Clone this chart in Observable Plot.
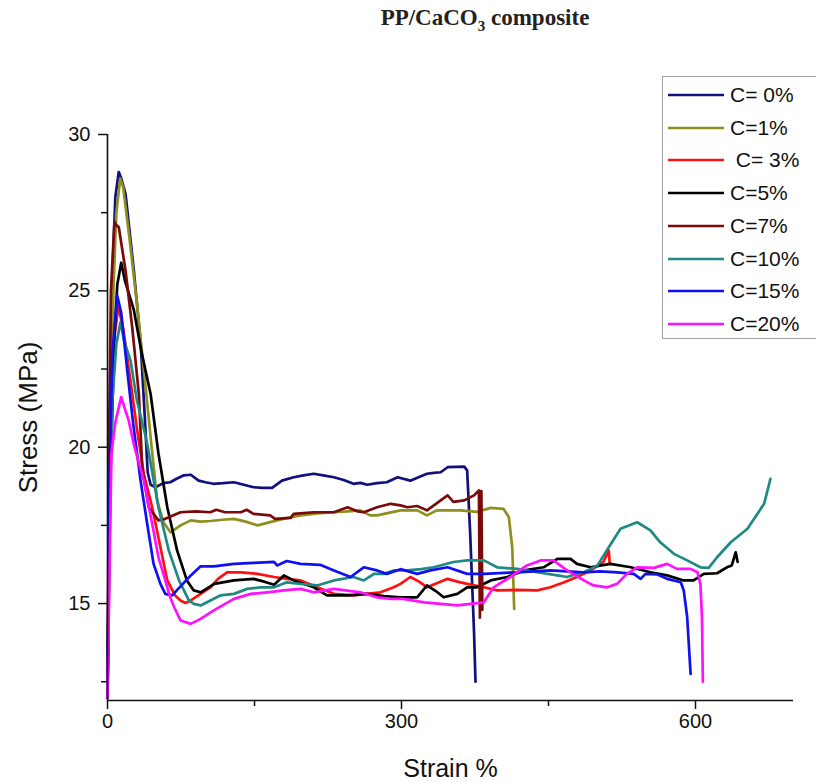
<!DOCTYPE html>
<html><head><meta charset="utf-8">
<script src="https://cdn.jsdelivr.net/npm/d3@7"></script>
<script src="https://cdn.jsdelivr.net/npm/@observablehq/plot@0.6"></script>
<style>
body{margin:0;background:#fff;}
#wrap{position:relative;width:816px;height:782px;overflow:hidden;font-family:"Liberation Sans",Arial,sans-serif;background:#fff;}
#title{position:relative;height:50px;}
#title span{position:absolute;left:485px;top:5px;transform:translateX(-50%);white-space:nowrap;font-family:"Liberation Serif","Times New Roman",serif;font-weight:bold;font-size:23px;color:#222;}
#title sub{font-size:15px;}
#legend{position:absolute;left:662px;top:76px;width:170px;height:261px;border:1px solid #a0a0a0;background:#fff;}
.row{position:absolute;left:0;height:24px;}
.row svg{position:absolute;left:4px;top:10px;}
.row span{position:absolute;left:67px;top:0;line-height:24px;font-size:21px;white-space:pre;color:#111;}
</style></head>
<body>
<div id="wrap">
  <div id="title"><span>PP/CaCO<sub>3</sub> composite</span></div>
  <div id="chart"></div>
  <div id="legend"></div>
</div>
<script>
const seriesNames = ["C= 0%", "C=1%", " C= 3%", "C=5%", "C=7%", "C=10%", "C=15%", "C=20%"];
const seriesColors = ["#10107e", "#8f8f1c", "#ff1010", "#000000", "#7a0a0a", "#1f8a82", "#1010f0", "#ff10ff"];

const xTicks = [0, 300, 600];
const xMinor = [150, 450];
const yTicks = [15, 20, 25, 30];
const yMinor = [12.5, 17.5, 22.5, 27.5];

// [strain %, stress MPa]
const c0 = [[0,12],[2,20],[5,25.5],[8,28],[11.5,28.8],[14,28.6],[18.4,28.1],[26.9,25.65],[33.7,23.4],[38,21],[41,19.2],[44,18.8],[49,18.72],[57,18.85],[64,18.88],[71,19.0],[78,19.1],[85,19.12],[93,18.93],[100,18.88],[108,18.83],[118,18.85],[129,18.88],[139,18.8],[149,18.72],[158,18.7],[168,18.7],[178,18.93],[190,19.04],[200,19.1],[210.5,19.15],[220,19.1],[231,19.04],[241,18.95],[251,18.83],[258,18.86],[265,18.8],[275,18.85],[285,18.88],[296,19.04],[309,18.93],[318,19.05],[326,19.15],[333,19.18],[340,19.2],[347,19.36],[355,19.37],[364,19.38],[367,19.26],[370,17.3],[374,14.1],[375.5,12.5]];
const c1 = [[0,12],[3,20],[6,25],[9,27.5],[13,28.6],[16,28.3],[22,26.8],[30,24.6],[38,22.2],[45,20.0],[50.7,18.3],[57,17.6],[64.3,17.28],[74.5,17.5],[85,17.66],[95,17.62],[105,17.64],[117,17.68],[129,17.71],[141,17.62],[153,17.5],[163,17.58],[173,17.66],[185,17.75],[197,17.82],[214,17.88],[231,17.92],[245,17.95],[258,17.98],[268,17.82],[275,17.82],[287,17.9],[299,17.98],[316,17.98],[326,17.82],[336,17.98],[348,17.98],[360,17.98],[377,17.93],[391,18.06],[404,18.03],[409.5,17.77],[413,16.8],[415,14.83]];
const c3 = [[0,12],[2,19],[5,23],[11,24.5],[16,23.8],[24,22],[30,20.6],[37,19.15],[45.6,18.08],[54,16.8],[61,15.74],[69,15.26],[74.5,15.1],[79.6,15.02],[85,15.1],[95,15.31],[105,15.52],[113,15.8],[122,16.0],[136,16.0],[153,15.95],[170,15.85],[183,15.79],[197,15.74],[214,15.52],[231,15.31],[251,15.26],[265,15.31],[278.6,15.36],[292,15.52],[299,15.63],[309,15.85],[318,15.7],[326,15.52],[336,15.65],[347,15.79],[357,15.7],[367,15.63],[384,15.52],[397.6,15.42],[418,15.44],[438.5,15.42],[452,15.52],[466,15.68],[479,15.85],[493,16.06],[506,16.33],[511.5,16.7],[512.5,16.27]];
const c5 = [[0,12],[3,19],[7,23.5],[10,25.2],[14,25.9],[18,25.3],[26.8,24.4],[35,23],[44,21.7],[52,19.8],[61,18.08],[71,16.7],[81,15.74],[88,15.42],[95,15.36],[109,15.63],[129,15.74],[149,15.79],[160,15.7],[170,15.6],[180,15.9],[190,15.74],[210.5,15.52],[224,15.26],[245,15.26],[265,15.31],[282,15.24],[299,15.2],[306,15.2],[316,15.2],[326,15.58],[335,15.4],[343,15.2],[357,15.31],[367,15.52],[377,15.52],[391,15.74],[408,15.85],[425,16.06],[445,16.16],[459,16.43],[472.5,16.43],[479,16.27],[493,16.16],[513,16.27],[534,16.16],[554,16.0],[571,15.9],[588,15.74],[598,15.74],[608.5,15.95],[622,15.97],[632,16.16],[637,16.22],[641,16.64],[643,16.33]];
const c7 = [[0,12],[1.5,20],[3.5,25],[7.1,27.2],[9,27.1],[11.5,27.04],[18.4,25.65],[25.2,23.84],[32,21.7],[35.4,19.36],[42,18.08],[52,17.66],[59,17.71],[74.5,17.92],[90,17.95],[105,17.92],[111,18.0],[120,17.92],[136,17.92],[142,18.0],[149,17.87],[166,17.82],[171,17.71],[187,17.74],[190,17.87],[210.5,17.92],[231,17.92],[245,18.08],[255,17.95],[261.5,17.92],[275,18.08],[289,18.19],[299,18.14],[306,18.08],[316,18.12],[326,17.98],[340,18.3],[347,18.46],[353,18.25],[364,18.3],[374,18.46],[379,18.62],[380,14.55],[381.5,18.6],[382.5,14.8]];
const c10 = [[0,12],[2,18],[5,21.5],[9,23.3],[13.3,24],[17,23.4],[23.5,22.77],[30,21.5],[40,20.2],[52,18.08],[62.5,16.7],[73,15.74],[83,15.1],[88,14.99],[95,14.94],[105,15.1],[115,15.26],[129,15.31],[142.5,15.47],[156,15.52],[170,15.52],[183,15.68],[197,15.63],[214,15.58],[231,15.74],[251,15.85],[261.5,15.74],[272,15.95],[282,15.95],[292,16.06],[306,16.06],[320,16.1],[333,16.16],[353,16.33],[367,16.38],[384,16.38],[397.6,16.16],[418,16.11],[438.5,16.0],[459,15.9],[469,15.85],[479,15.95],[486,16.0],[493,16.11],[500,16.22],[511.5,16.8],[523.5,17.39],[540.5,17.6],[554,17.34],[564,16.96],[578,16.59],[591.5,16.38],[605,16.16],[613.5,16.14],[622,16.48],[636,16.96],[653,17.39],[670,18.19],[676.5,18.99]];
const c15 = [[0,12],[2,19],[5,23],[9.9,24.85],[14,24.3],[20,22.5],[26,20.8],[33.7,18.94],[40.5,17.55],[47,16.27],[54,15.63],[59,15.31],[66,15.26],[74.5,15.55],[85,15.9],[95,16.19],[108.5,16.19],[129,16.27],[149,16.3],[170,16.33],[173,16.22],[183,16.36],[197,16.27],[217,16.24],[231,16.06],[248,15.85],[261.5,16.16],[275,16.06],[285,15.95],[299,16.1],[316,15.95],[329.6,16.06],[347,16.16],[367,15.95],[384,15.95],[418,16.0],[452,16.06],[486,16.0],[503,16.03],[520,16.0],[537,15.95],[544,15.79],[549,15.95],[561,15.93],[571,15.79],[585,15.68],[588,15.42],[591.5,14.57],[595,12.75]];
const c20 = [[0,12],[2,16],[4,19.8],[8,20.8],[14,21.6],[18,21.2],[21.7,20.85],[26.8,20.1],[32,19.5],[37,18.94],[45.6,17.55],[52,16.48],[59,15.74],[64,15.2],[68,14.89],[74.5,14.46],[85,14.35],[95,14.51],[108.5,14.78],[129,15.15],[146,15.31],[163,15.36],[180,15.42],[197,15.47],[210.5,15.36],[231,15.47],[258,15.36],[275,15.2],[290,15.15],[302,15.15],[323,15.04],[357,14.94],[384,15.04],[394,15.52],[411,15.85],[428,16.22],[442,16.38],[455,16.38],[469,16.06],[486,15.74],[496,15.58],[510,15.52],[520,15.63],[530,15.95],[540.5,16.16],[557.5,16.14],[571,16.27],[581,16.11],[595,16.11],[602,16.0],[605,15.63],[606.6,14.57],[607.5,12.5]];

const curves = [c0, c1, c3, c5, c7, c10, c15, c20];
const data = curves.flatMap((pts, i) => pts.map(([strain, stress]) => ({series: seriesNames[i], strain, stress})));

const yMin = 11.9, yMax = 30, xMax = 700;

const chart = Plot.plot({
  width: 816,
  height: 732,
  marginLeft: 107,
  marginRight: 23,
  marginTop: 84,
  marginBottom: 82,
  x: {domain: [0, xMax]},
  y: {domain: [yMin, yMax]},
  color: {domain: seriesNames, range: seriesColors},
  style: {fontFamily: "'Liberation Sans', Arial, sans-serif", fontSize: "20px", color: "#111", background: "#fff", overflow: "visible"},
  marks: [
    Plot.line(data, {x: "strain", y: "stress", z: "series", stroke: "series", strokeWidth: 2.7, strokeLinejoin: "round", strokeLinecap: "round"}),
    Plot.ruleX([0], {y1: yMin, y2: yMax, stroke: "#111", strokeWidth: 1.6}),
    Plot.ruleY([yMin], {x1: 0, x2: xMax, stroke: "#111", strokeWidth: 1.6}),
    Plot.axisX({ticks: xTicks, tickSize: 9, tickPadding: 4, strokeWidth: 1.5, fontSize: 20, tickFormat: d => String(d), label: null}),
    Plot.axisX({ticks: xMinor, tickSize: 6, strokeWidth: 1.5, tickFormat: () => "", label: null}),
    Plot.axisY({ticks: yTicks, tickSize: 9, tickPadding: 8, strokeWidth: 1.5, fontSize: 20, tickFormat: d => String(d), label: null}),
    Plot.axisY({ticks: yMinor, tickSize: 6, strokeWidth: 1.5, tickFormat: () => "", label: null}),
    Plot.text(["Stress (MPa)"], {frameAnchor: "left", dx: -79, rotate: -90, textAnchor: "middle", lineAnchor: "middle", fontSize: 26}),
    Plot.text(["Strain %"], {frameAnchor: "bottom", dy: 68, textAnchor: "middle", lineAnchor: "middle", fontSize: 25})
  ]
});
document.getElementById("chart").appendChild(chart);

// legend built from the same colour scale
const legend = document.getElementById("legend");
const scale = chart.scale("color");
seriesNames.forEach((name, i) => {
  const row = document.createElement("div");
  row.className = "row";
  row.style.top = (6 + i * 32.7) + "px";
  row.innerHTML = `<svg width="58" height="4"><line x1="1" y1="2" x2="57" y2="2" stroke="${scale.apply(name)}" stroke-width="2.7"/></svg><span>${name}</span>`;
  legend.appendChild(row);
});
</script>
</body></html>
